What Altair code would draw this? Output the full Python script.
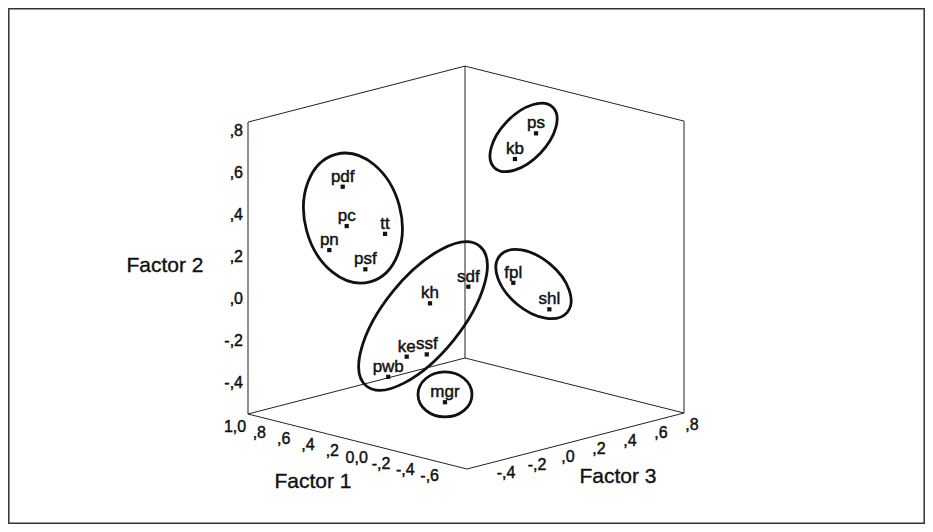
import altair as alt
import pandas as pd

# ---------------- data ----------------
items = ["pdf", "pc", "tt", "pn", "psf", "ps", "kb", "sdf", "kh", "ke", "ssf", "pwb", "fpl", "shl", "mgr"]
factor1 = [0.800, 0.850, 0.750, 0.850, 0.800, 0.100, 0.150, 0.300, 0.350, 0.400, 0.350, 0.450, 0.050, -0.050, 0.200]
factor2 = [0.475, 0.268, 0.213, 0.175, 0.054, 0.698, 0.587, -0.008, -0.055, -0.295, -0.294, -0.383, 0.029, -0.112, -0.500]
factor3 = [-0.146, -0.081, 0.088, -0.193, 0.000, 0.552, 0.455, 0.272, 0.064, -0.047, 0.043, -0.127, 0.366, 0.520, 0.043]

# cube ranges (factor units)
F1_BACK, F1_FRONT = 1.0, -0.8
F3_BACK, F3_FRONT = 0.8, -0.6
F2_MIN, F2_MAX = -0.55, 0.84

f1_ticks = [1.0, 0.8, 0.6, 0.4, 0.2, 0.0, -0.2, -0.4, -0.6]
f1_labels = ["1,0", ",8", ",6", ",4", ",2", "0,0", "-,2", "-,4", "-,6"]
f2_ticks = [0.8, 0.6, 0.4, 0.2, 0.0, -0.2, -0.4]
f2_labels = [",8", ",6", ",4", ",2", ",0", "-,2", "-,4"]
f3_ticks = [-0.4, -0.2, 0.0, 0.2, 0.4, 0.6, 0.8]
f3_labels = ["-,4", "-,2", ",0", ",2", ",4", ",6", ",8"]

# hand-drawn cluster outlines: centre in factor space
cluster_f1 = [0.80, 0.12, 0.35, 0.00, 0.20]
cluster_f2 = [0.313, 0.688, -0.107, 0.013, -0.463]
cluster_f3 = [-0.080, 0.487, 0.019, 0.457, 0.043]

# ---------------- style / layout ----------------
W, H = 917, 516
PAGE = 8
CORNER = (465, 358)      # back-bottom corner of the cube (page px)
U = (-217, 56)           # screen vector along factor 3 (back -> front)
V = (219, 55)            # screen vector along factor 1 (back -> front)
UNIT_Y = 210             # px per factor-2 unit
FONT = "Liberation Sans"
INK = "#111111"
TEXT_STROKE = 0.45

# outline semi-axes (px) and rotation (deg)
cluster_a = [66, 42, 90, 44, 27]
cluster_b = [48, 23, 39, 26, 22.5]
cluster_angle = [75, 314, 309, 40, 0]


def projection(f1, f2, f3, px, py):
    tv = f"(({F1_BACK} - datum['{f1}']) / {F1_BACK - F1_FRONT:.4f})"
    tu = f"(({F3_BACK} - datum['{f3}']) / {F3_BACK - F3_FRONT:.4f})"
    return {
        px: f"{CORNER[0]} + ({U[0]})*{tu} + ({V[0]})*{tv}",
        py: f"{CORNER[1]} + ({U[1]})*{tu} + ({V[1]})*{tv} - {UNIT_Y}*(datum['{f2}'] - ({F2_MIN}))",
    }


def X(f):
    return alt.X(f, type="quantitative",
                 scale=alt.Scale(domain=[PAGE, PAGE + W], nice=False, zero=False), axis=None)


def Y(f):
    return alt.Y(f, type="quantitative",
                 scale=alt.Scale(domain=[PAGE, PAGE + H], nice=False, zero=False, reverse=True), axis=None)


K = 0.5523


def ellipse_path(r):
    kr = K * r
    return (f"M -1 0 C -1 {-kr:.4f} {-K} {-r:.4f} 0 {-r:.4f} "
            f"C {K} {-r:.4f} 1 {-kr:.4f} 1 0 "
            f"C 1 {kr:.4f} {K} {r:.4f} 0 {r:.4f} "
            f"C {-K} {r:.4f} -1 {kr:.4f} -1 0 Z")


# ---------------- tables ----------------
points = pd.DataFrame({"item": items, "f1": factor1, "f2": factor2, "f3": factor3})

corners = {
    "Bb": (F1_BACK, F2_MIN, F3_BACK), "Bt": (F1_BACK, F2_MAX, F3_BACK),
    "Lb": (F1_BACK, F2_MIN, F3_FRONT), "Lt": (F1_BACK, F2_MAX, F3_FRONT),
    "Rb": (F1_FRONT, F2_MIN, F3_BACK), "Rt": (F1_FRONT, F2_MAX, F3_BACK),
    "Fb": (F1_FRONT, F2_MIN, F3_FRONT),
}
edge_pairs = [("Lb", "Lt"), ("Lt", "Bt"), ("Bt", "Bb"), ("Bb", "Lb"), ("Bb", "Rb"),
              ("Rb", "Rt"), ("Rt", "Bt"), ("Lb", "Fb"), ("Fb", "Rb")]
edges = pd.DataFrame([
    {"a1": corners[a][0], "a2": corners[a][1], "a3": corners[a][2],
     "b1": corners[b][0], "b2": corners[b][1], "b3": corners[b][2]}
    for a, b in edge_pairs
])

outlines = pd.DataFrame({
    "f1": cluster_f1, "f2": cluster_f2, "f3": cluster_f3,
    "path": [ellipse_path(b / a) for a, b in zip(cluster_a, cluster_b)],
    "sz": [4 * a * a for a in cluster_a],
    "ang": cluster_angle,
})

t1 = pd.DataFrame({"f1": f1_ticks, "f2": F2_MIN, "f3": F3_FRONT, "lab": f1_labels})
t2 = pd.DataFrame({"f1": F1_BACK, "f2": f2_ticks, "f3": F3_FRONT, "lab": f2_labels})
t3 = pd.DataFrame({"f1": F1_FRONT, "f2": F2_MIN, "f3": f3_ticks, "lab": f3_labels})

# ---------------- layers ----------------
frame = alt.Chart(pd.DataFrame({"k": [0]})).mark_rect(
    fill=None, stroke="#333333", strokeWidth=1.5
).encode(x=alt.value(0.8), x2=alt.value(W - 0.8), y=alt.value(0.8), y2=alt.value(H - 0.8))

box = alt.Chart(edges).transform_calculate(
    **projection("a1", "a2", "a3", "ax", "ay")
).transform_calculate(
    **projection("b1", "b2", "b3", "bx", "by")
).mark_rule(color="#222222", strokeWidth=1).encode(
    x=X("ax"), y=Y("ay"), x2=alt.X2("bx"), y2=alt.Y2("by")
)

rings = alt.Chart(outlines).transform_calculate(
    **projection("f1", "f2", "f3", "px", "py")
).mark_point(filled=False, color=INK, strokeWidth=2.8, opacity=1).encode(
    x=X("px"), y=Y("py"),
    shape=alt.Shape("path:N", scale=None),
    size=alt.Size("sz:Q", scale=None),
    angle=alt.Angle("ang:Q", scale=None),
)

dots = alt.Chart(points).transform_calculate(
    **projection("f1", "f2", "f3", "px", "py")
).mark_square(size=18, color=INK, opacity=1).encode(x=X("px"), y=Y("py"))

labels = alt.Chart(points).transform_calculate(
    **projection("f1", "f2", "f3", "px", "py")
).mark_text(font=FONT, fontSize=17, color=INK, stroke=INK, strokeWidth=TEXT_STROKE,
            align="center", baseline="alphabetic", dy=-5).encode(
    x=X("px"), y=Y("py"), text="item:N"
)


def ticks(df, align, dx, dy):
    return alt.Chart(df).transform_calculate(
        **projection("f1", "f2", "f3", "px", "py")
    ).mark_text(font=FONT, fontSize=16, color=INK, stroke=INK, strokeWidth=TEXT_STROKE,
                align=align, baseline="middle", dx=dx, dy=dy).encode(
        x=X("px"), y=Y("py"), text="lab:N"
    )


ticks1 = ticks(t1, "center", -13, 13)
ticks2 = ticks(t2, "right", -5, 0)
ticks3 = ticks(t3, "center", 8, 12)


def title(text, cx, cy):
    return alt.Chart(pd.DataFrame({"k": [0]})).mark_text(
        font=FONT, fontSize=21, color=INK, stroke=INK, strokeWidth=0.35,
        align="center", baseline="middle"
    ).encode(x=alt.value(cx - PAGE), y=alt.value(cy - PAGE), text=alt.value(text))


chart = alt.layer(
    frame, box, rings, dots, labels, ticks1, ticks2, ticks3,
    title("Factor 2", 165, 266), title("Factor 1", 313, 482), title("Factor 3", 618, 477),
).properties(
    width=W, height=H, autosize=alt.AutoSizeParams(type="none"), padding=0, background="white"
).configure_view(stroke=None)

chart.save("out.html", embed_options={"renderer": "svg", "actions": False})
